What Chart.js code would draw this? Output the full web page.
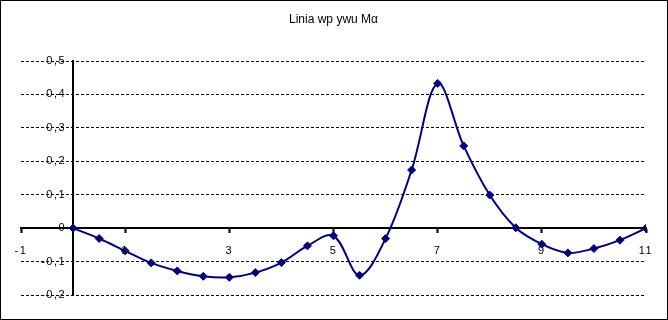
<!DOCTYPE html>
<html>
<head>
<meta charset="utf-8">
<title>Linia wp ywu Ma</title>
<script src="https://cdn.jsdelivr.net/npm/chart.js@4/dist/chart.umd.min.js"></script>
<style>
  body { margin: 0; background: #fff; }
  #wykres { display: block; outline: 1px solid #000; outline-offset: -1px; }
</style>
</head>
<body>
<canvas id="wykres" width="668" height="320"></canvas>
<script>
// dane
const xValues = [0, 0.5, 1, 1.5, 2, 2.5, 3, 3.5, 4, 4.5, 5, 5.5, 6, 6.5, 7, 7.5, 8, 8.5, 9, 9.5, 10, 10.5, 11];
const yValues = [0, -0.031, -0.068, -0.104, -0.128, -0.144, -0.147, -0.133, -0.103, -0.053, -0.023, -0.141,
                 -0.031, 0.174, 0.433, 0.246, 0.099, 0.001, -0.048, -0.074, -0.061, -0.036, 0];
const xTicks = [-1, 1, 3, 5, 7, 9, 11];
const yTicks = [-0.2, -0.1, 0, 0.1, 0.2, 0.3, 0.4, 0.5];
const chartTitle = 'Linia wp ywu M\u03b1';

const punkty = xValues.map(function(x, i){ return {x: x, y: yValues[i]}; });

// odstep liter tylko dla etykiet osi (rysowane po seriach)
const odstepLiter = {
  id: 'odstepLiter',
  beforeDraw: function(chart){ chart.ctx.letterSpacing = '0px'; },
  afterDatasetsDraw: function(chart){ chart.ctx.letterSpacing = '1.5px'; },
  afterDraw: function(chart){ chart.ctx.letterSpacing = '0px'; }
};

function zeroFit(scale){
  scale.width = scale.isHorizontal() ? scale.width : 0;
  scale.height = scale.isHorizontal() ? 0 : scale.height;
  scale.paddingLeft = 0; scale.paddingRight = 0;
  scale.paddingTop = 0; scale.paddingBottom = 0;
}

new Chart(document.getElementById('wykres'), {
  type: 'line',
  data: {
    datasets: [{
      data: punkty,
      borderColor: '#000080',
      backgroundColor: '#000080',
      borderWidth: 2,
      tension: 0.35,
      pointStyle: 'rectRot',
      pointRadius: 4,
      pointBorderWidth: 1,
      fill: false
    }]
  },
  options: {
    responsive: false,
    animation: false,
    devicePixelRatio: 1,
    layout: { padding: { left: 21, right: 22, top: 0, bottom: 25 } },
    plugins: {
      legend: { display: false },
      tooltip: { enabled: false },
      title: {
        display: true,
        text: chartTitle,
        color: '#000',
        font: { family: 'Liberation Sans', size: 12, weight: 'normal' },
        padding: { top: 12, bottom: 34.6 }
      }
    },
    scales: {
      x: {
        type: 'linear',
        position: { y: 0 },
        min: -1,
        max: 11,
        afterBuildTicks: function(scale){ scale.ticks = xTicks.map(function(v){ return {value: v}; }); },
        afterFit: zeroFit,
        grid: { drawOnChartArea: false, drawTicks: true, tickLength: 4, tickWidth: 2, tickColor: '#000' },
        border: { display: true, color: '#000', width: 2 },
        ticks: {
          z: 1,
          color: '#000',
          autoSkip: false,
          maxRotation: 0,
          padding: 12,
          font: { family: 'Liberation Sans', size: 11 },
          callback: function(v){ return String(v); }
        }
      },
      y: {
        type: 'linear',
        position: { x: 0 },
        min: -0.2,
        max: 0.5,
        afterBuildTicks: function(scale){ scale.ticks = yTicks.map(function(v){ return {value: v}; }); },
        afterFit: zeroFit,
        grid: { color: '#000', lineWidth: 1, drawTicks: false },
        border: { display: true, color: '#000', width: 2, dash: [3, 2] },
        ticks: {
          z: 1,
          color: '#000',
          autoSkip: false,
          font: { family: 'Liberation Sans', size: 11 },
          callback: function(v){
            const r = Math.round(v * 10) / 10;
            // odstep na koncu odsuwa etykiete od osi
            return (r === 0 ? '0' : r.toFixed(1).replace('.', ',')) + '\u2002';
          }
        }
      }
    }
  },
  plugins: [odstepLiter]
});
</script>
</body>
</html>
